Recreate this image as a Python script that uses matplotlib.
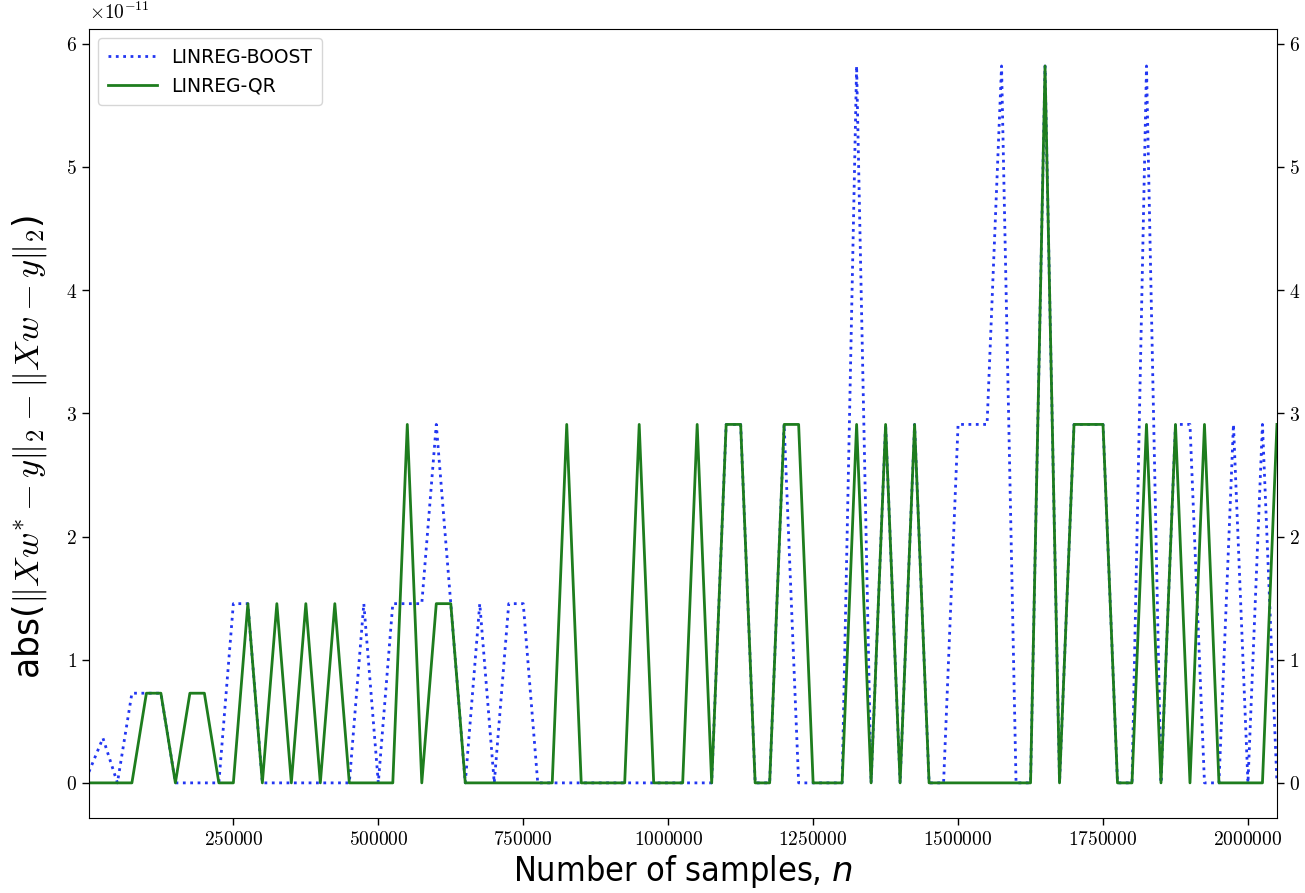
import matplotlib
matplotlib.use('Agg')

import numpy as np
import matplotlib.pyplot as plt
from matplotlib.ticker import FuncFormatter

plt.rcParams['mathtext.fontset'] = 'cm'

# sample sizes: first run at 1000, then every 25000 up to 2.05M
n_samples = np.concatenate([[1000], np.arange(25000, 2050001, 25000)])

# residual-norm differences, in units of 1e-11
boost = [0.09, 0.364, 0, 0.728, 0.728, 0.728, 0, 0, 0, 0,
         1.455, 1.455, 0, 0, 0, 0, 0, 0, 0, 1.455,
         0, 1.455, 1.455, 1.455, 2.91, 1.455, 0, 1.455, 0, 1.455,
         1.455, 0, 0, 0, 0, 0, 0, 0, 0, 0,
         0, 0, 0, 0, 2.91, 2.91, 0, 0, 2.91, 0,
         0, 0, 0, 5.82, 0, 2.91, 0, 2.91, 0, 0,
         2.91, 2.91, 2.91, 5.82, 0, 0, 5.82, 0, 2.91, 2.91,
         2.91, 0, 0, 5.82, 0, 2.91, 2.91, 0, 0, 2.91,
         0, 2.91, 0]
qr = [0, 0, 0, 0, 0.728, 0.728, 0, 0.728, 0.728, 0,
      0, 1.455, 0, 1.455, 0, 1.455, 0, 1.455, 0, 0,
      0, 0, 2.91, 0, 1.455, 1.455, 0, 0, 0, 0,
      0, 0, 0, 2.91, 0, 0, 0, 0, 2.91, 0,
      0, 0, 2.91, 0, 2.91, 2.91, 0, 0, 2.91, 2.91,
      0, 0, 0, 2.91, 0, 2.91, 0, 2.91, 0, 0,
      0, 0, 0, 0, 0, 0, 5.82, 0, 2.91, 2.91,
      2.91, 0, 0, 2.91, 0, 2.91, 0, 2.91, 0, 0,
      0, 0, 2.91]

boost = np.array(boost) * 1e-11
qr = np.array(qr) * 1e-11

fig = plt.figure(figsize=(13.05, 8.93), dpi=100)
ax = fig.add_axes([0.0682, 0.084, 0.9103, 0.8835])

ax.plot(n_samples, boost, color='#2236f2', linestyle=':', linewidth=2.0,
        label='LINREG-BOOST')
ax.plot(n_samples, qr, color='#1e7d1e', linestyle='-', linewidth=2.0,
        label='LINREG-QR')

ax.set_xlim(n_samples[0], n_samples[-1])
ax.set_ylim(-0.285e-11, 6.12e-11)
ax.set_xticks(np.arange(250000, 2000001, 250000))
ax.set_yticks(np.arange(0, 7) * 1e-11)

ax.xaxis.set_major_formatter(FuncFormatter(lambda v, p: r'$\mathrm{%d}$' % round(v)))
ax.yaxis.set_major_formatter(FuncFormatter(lambda v, p: r'$\mathrm{%d}$' % round(v * 1e11)))
ax.tick_params(axis='both', labelsize=14, length=5, width=1)
ax.tick_params(axis='y', right=True, labelright=True)
ax.text(0.0, 1.008, r'$\times10^{-11}$', transform=ax.transAxes,
        fontsize=14, ha='left', va='bottom')

ax.set_xlabel('Number of samples, $n$', fontsize=24.5, labelpad=3,
              fontstretch='condensed', math_fontfamily='dejavusans')
ax.set_ylabel(r'abs($\|Xw^{*}-y\|_2 - \|Xw-y\|_2$)', fontsize=25)
ax.yaxis.set_label_coords(-0.034, 0.47)

ax.legend(loc='upper left', fontsize=13.5, handlelength=2.6, borderpad=0.5,
          framealpha=0.8)

plt.savefig('out.png', dpi=100)
plt.close()
